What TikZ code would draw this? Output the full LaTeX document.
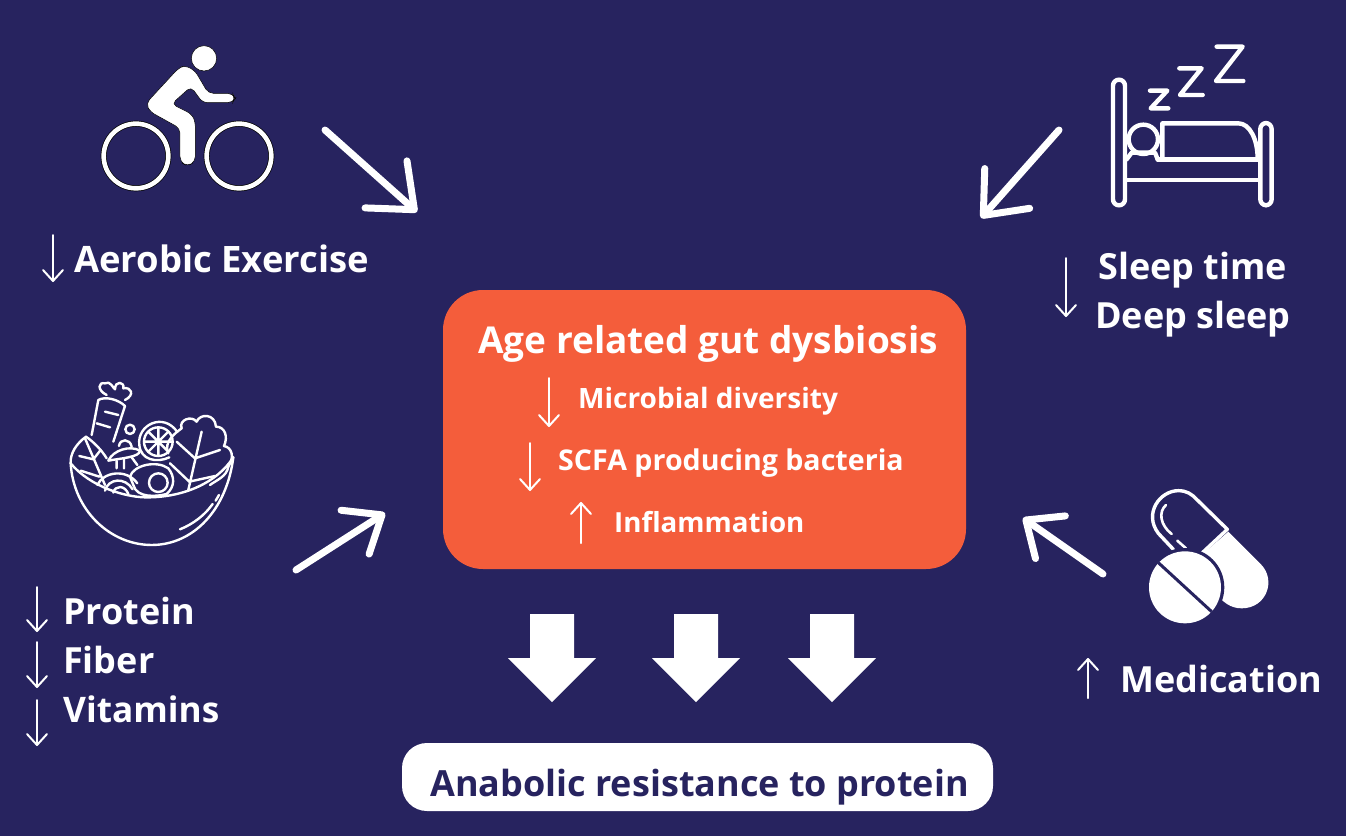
\documentclass[tikz,border=0pt]{standalone}
\usepackage{fontspec}
\setmainfont{Open Sans}[BoldFont={Open Sans Bold}]
\usepackage{xcolor}
\usetikzlibrary{arrows.meta}
\definecolor{navyback}{HTML}{27235F}
\definecolor{orangebox}{HTML}{F45D3B}
\tikzset{
  bigarrow/.style 2 args={white,line width=7pt,line cap=round,line join=round,
    -{Straight Barb[length=#1pt,width=#2pt,round]}},
  thinarrow/.style={white,line width=2pt,line cap=round,
    -{Straight Barb[length=11pt,width=20pt,round]}},
  label/.style={inner sep=0pt,anchor=base west,text=white,font=\bfseries\fontsize{36}{40}\selectfont},
  sublabel/.style={label,font=\bfseries\fontsize{28}{34}\selectfont},
  iconline/.style={white,line width=2.4pt,line cap=round,line join=round},
  bedline/.style={white,line width=4.4pt,line cap=round,line join=round},
}

\begin{document}
\begin{tikzpicture}[x=1pt,y=-1pt]
\useasboundingbox (0,0) rectangle (1346,836);
\fill [navyback] (0,0) rectangle (1346,836);

% central boxes
\node (gutbox) at (704.5,429.5) [rectangle,fill=orangebox,rounded corners=40pt,
  minimum width=523pt,minimum height=279pt,inner sep=0pt] {};
\node (resistbox) at (697.5,777) [rectangle,fill=white,rounded corners=25pt,
  minimum width=591pt,minimum height=68pt,inner sep=0pt] {};

% block arrows between the boxes
\foreach \x in {552,696,832}
{ \fill [white] (\x-22,614)--(\x+22,614)--(\x+22,658)--(\x+44,658)--(\x,702)
    --(\x-44,658)--(\x-22,658)--cycle;
}

% texts
\node (gutttl) at (478,353) [label,font=\bfseries\fontsize{37}{40}\selectfont] {Age related gut dysbiosis};
\node (microb) at (578,408) [sublabel] {Microbial diversity};
\node (scfa) at (558,470) [sublabel,font=\bfseries\fontsize{28.6}{34}\selectfont] {SCFA producing bacteria};
\node (inflam) at (614,532) [sublabel,font=\bfseries\fontsize{27.7}{34}\selectfont] {Inflammation};
\node (resist) at (430,796) [label,text=navyback] {Anabolic resistance to protein};
\node (aerobic) at (74,272) [label,font=\bfseries\fontsize{36.4}{40}\selectfont] {Aerobic Exercise};
\node (sleep) at (1098,279) [label] {Sleep time};
\node (deep) at (1095,328) [label] {Deep sleep};
\node (protein) at (63,624) [label] {Protein};
\node (fiber) at (63,673) [label] {Fiber};
\node (vitam) at (63,722) [label,font=\bfseries\fontsize{35.2}{40}\selectfont] {Vitamins};
\node (medic) at (1120,692) [label] {Medication};

% thin up and down arrows
\foreach \n / \x / \a / \b in {a/53/235/282,b/1066/258/317,c/37/587/632,d/37/642/688,
  e/37/700/746,f/549/378/427,g/530/443/491,h/581/543/502,i/1088/698/658}
{ \coordinate (s\n) at (\x,\a);
  \coordinate (t\n) at (\x,\b);
  \draw [thinarrow] (s\n)--(t\n);
}

% the four slanted arrows
\coordinate (bikeout) at (325,130);
\coordinate (bikein) at (417,212);
\coordinate (bedout) at (1059,130);
\coordinate (bedin) at (981,218);
\coordinate (bowlout) at (296,570);
\coordinate (bowlin) at (385,513);
\coordinate (pillout) at (1103,574);
\coordinate (pillin) at (1023,518);
\draw [bigarrow={38}{63}] (bikeout)--(bikein);
\draw [bigarrow={36}{60}] (bedout)--(bedin);
\draw [bigarrow={32}{52}] (bowlout)--(bowlin);
\draw [bigarrow={30}{52}] (pillout)--(pillin);

% cyclist
\begin{scope}[shift={(80,30)},x=0.3333pt,y=-0.3333pt]
\fill [white,draw=black,line width=0.5pt] (372,85) circle (38);
\fill [white,draw=black,line width=0.5pt,rounded corners=5pt] (315,106)--(345,122)--(385,190)--(458,190)
  --(466,205)--(458,218)--(368,218)--(333,170)--(275,222)--(335,252)--(346,275)--(346,395)
  --(322,409)--(300,395)--(300,295)--(210,245)--(198,220)--(295,115)--cycle;
\foreach \x in {168,477}
{ \draw [black,line width=6pt] (\x,378) circle (97);
  \draw [white,line width=4.6pt] (\x,378) circle (97);
}
\end{scope}

% bed and the three z
\begin{scope}[shift={(960,30)},x=0.3333pt,y=-0.3333pt]
\draw [bedline,rounded corners=6pt] (459,149) rectangle (495,526);
\draw [bedline,rounded corners=6pt] (901,279) rectangle (935,526);
\draw [bedline] (497,450)--(897,450);
\draw [bedline] (607,385)--(607,280)--(835,280) .. controls (870,280) and (893,330) .. (893,385);
\draw [bedline] (593,388)--(893,388);
\draw [bedline] (550,328) circle (44);
\draw [bedline] (500,388)--(515,368)--(585,368)--(593,388);
\draw [bedline] (570,182)--(622,182)--(572,235)--(625,235);
\draw [bedline] (658,115)--(725,115)--(660,195)--(728,195);
\draw [bedline] (770,50)--(848,50)--(768,153)--(850,153);
\end{scope}

% salad bowl
\begin{scope}[shift={(50,370)},x=0.3333pt,y=-0.3333pt]
\draw [iconline] (62,280) .. controls (120,350) and (230,385) .. (300,382)
  .. controls (400,380) and (500,340) .. (550,262);
\draw [iconline] (62,280) .. controls (70,420) and (180,525) .. (305,525)
  .. controls (430,525) and (530,420) .. (550,262);
\draw [iconline] (390,478) .. controls (430,462) and (465,435) .. (488,402);
\draw [iconline] (497,392)--(507,375);
% left leaf
\draw [iconline] (62,280) .. controls (60,250) and (80,220) .. (108,200)
  .. controls (130,215) and (155,240) .. (170,265);
\draw [iconline] (105,205)--(165,345) (88,258)--(130,268)--(152,240) (92,302)--(148,320);
% carrot
\draw [iconline] (125,195)--(145,90) .. controls (165,78) and (205,88) .. (225,108)--(190,215);
\draw [iconline] (165,125)--(205,135) (140,160)--(180,172);
\draw [iconline] (170,75) .. controls (140,60) and (145,35) .. (165,40)
  .. controls (180,30) and (190,55) .. (195,58) .. controls (195,30) and (225,35) .. (220,55)
  .. controls (245,50) and (255,75) .. (225,90);
% mushroom, onion and small circles
\draw [iconline] (175,272) .. controls (190,240) and (240,225) .. (270,242)
  .. controls (270,262) and (210,265) .. (175,272);
\draw [iconline] (200,272)--(200,295) (222,268)--(222,295) (245,262)--(262,285);
\draw [iconline] (142,345) .. controls (160,305) and (230,295) .. (262,340);
\draw [iconline] (165,362) .. controls (175,325) and (225,320) .. (248,358);
\draw [iconline] (190,368) .. controls (195,345) and (225,345) .. (235,372);
\draw [iconline] (240,178) circle (14);
\draw [iconline] (207,228) .. controls (210,205) and (240,205) .. (245,230);
% citrus slice
\draw [iconline] (382,186) .. controls (340,125) and (260,165) .. (268,225);
\draw [iconline] (268,225) .. controls (272,270) and (320,280) .. (358,262);
\draw [iconline] (325,215) circle (43);
\draw [iconline] (325,172)--(325,258) (282,215)--(368,215) (295,185)--(355,245) (355,185)--(295,245);
% egg
\draw [iconline] (240,320) .. controls (250,285) and (320,270) .. (355,295)
  .. controls (375,320) and (375,350) .. (350,372) .. controls (320,380) and (260,385) .. (250,345)--(240,320);
\fill [navyback] (325,338) circle (30);
\draw [iconline] (325,338) circle (28);
% lettuce
\draw [iconline] (395,175) .. controls (385,150) and (425,135) .. (440,155)
  .. controls (450,130) and (495,130) .. (498,170) .. controls (525,170) and (535,200) .. (522,228)
  .. controls (545,232) and (555,260) .. (535,290) .. controls (530,320) and (500,330) .. (480,345);
\draw [iconline] (395,175) .. controls (375,190) and (340,215) .. (355,250);
\draw [iconline] (455,185)--(415,360) (380,215)--(435,265)--(510,240) (360,280)--(418,335)--(495,318);
\end{scope}

% capsule and tablet
\begin{scope}[shift={(1010,470)},x=0.3333pt,y=-0.3333pt]
\fill [white] (655,185)--(752,282) .. controls (800,330) and (770,415) .. (695,415)
  .. controls (660,415) and (640,395) .. (620,375)--(575,255)--cycle;
\draw [white,line width=3.4pt,line cap=round,line join=round] (490,238)--(445,190)
  .. controls (400,130) and (450,62) .. (505,62) .. controls (530,62) and (545,72) .. (560,88)
  --(652,178)--(575,250);
\draw [white,line width=2.6pt,line cap=round] (485,192) .. controls (450,165) and (445,125) .. (468,105);
\draw [white,line width=2.6pt,line cap=round] (502,212)--(528,235);
\fill [navyback] (525,352) circle (118);
\fill [white] (525,352) circle (108);
\draw [navyback,line width=3pt] (445,278)--(605,425);
\end{scope}
\end{tikzpicture}
\end{document}
